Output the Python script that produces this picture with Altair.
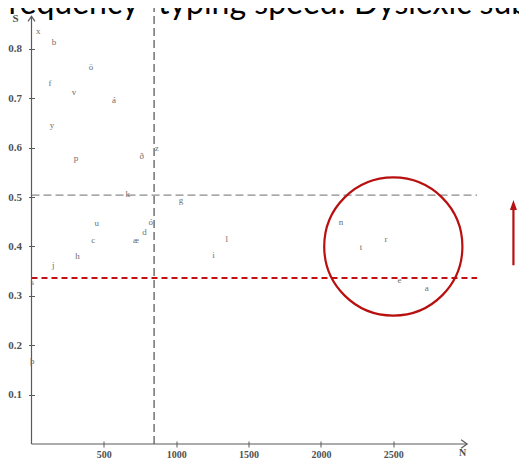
import altair as alt
import pandas as pd

# ---- data ----
letters = ["x", "b", "ö", "f", "v", "á", "y", "p", "ð", "z", "k", "g", "u", "ó",
           "d", "c", "æ", "l", "h", "i", "j", "s", "n", "t", "r", "e", "a", "þ"]
freq_n = [47, 155, 411, 128, 294, 570, 142, 308, 762, 865, 665, 1033, 451, 824,
          780, 427, 722, 1349, 317, 1257, 151, 5, 2139, 2277, 2450, 2542, 2731, 5]
speed_s = [0.836, 0.814, 0.763, 0.731, 0.713, 0.697, 0.646, 0.579, 0.583, 0.599,
           0.506, 0.494, 0.447, 0.449, 0.429, 0.413, 0.414, 0.416, 0.381, 0.383,
           0.363, 0.328, 0.449, 0.398, 0.416, 0.333, 0.316, 0.169]

x_ticks = [500, 1000, 1500, 2000, 2500]
y_ticks = [0.1, 0.2, 0.3, 0.4, 0.5, 0.6, 0.7, 0.8]

mean_n = [847]
mean_s = [0.504]
red_level = [0.336]
guide_end_n = [3079]
axis_end_n = [3010]
axis_end_s = [0.866]
circle_center = [2500, 0.40]
arrow_n = [3330]
arrow_s = [0.362, 0.478, 0.484]

x_domain = [0, 3365]
y_domain = [0, 0.883]

df = pd.DataFrame({"letter": letters, "N": freq_n, "S": speed_s})

xs = alt.Scale(domain=x_domain, nice=False, zero=False)
ys = alt.Scale(domain=y_domain, nice=False, zero=False)

serif = "Liberation Serif"
axis_col = "#5a5a5a"

pts = alt.Chart(df).mark_text(font=serif, fontSize=9, color="#6e6e6e").encode(
    x=alt.X("N:Q", scale=xs, axis=alt.Axis(
        values=x_ticks, format="d", title=None, grid=False, domain=False,
        labelFont=serif, labelFontWeight="bold", labelFontSize=10,
        labelColor="#505050", tickColor=axis_col, tickSize=6, tickWidth=1,
        offset=-3, labelPadding=2)),
    y=alt.Y("S:Q", scale=ys, axis=alt.Axis(
        values=y_ticks, format=".1f", title=None, grid=False, domain=False,
        labelFont=serif, labelFontWeight="bold", labelFontSize=11,
        labelColor="#505050", tickColor=axis_col, tickSize=6, tickWidth=1,
        offset=-3, labelPadding=7)),
    text="letter:N",
)

# axis lines
yaxis_line = alt.Chart(pd.DataFrame({"n": [0], "s0": [0], "s1": axis_end_s})).mark_rule(
    color=axis_col, strokeWidth=1.2).encode(
    x=alt.X("n:Q", scale=xs), y=alt.Y("s0:Q", scale=ys), y2="s1:Q")
xaxis_line = alt.Chart(pd.DataFrame({"s": [0], "n0": [0], "n1": axis_end_n})).mark_rule(
    color=axis_col, strokeWidth=1.2).encode(
    y=alt.Y("s:Q", scale=ys), x=alt.X("n0:Q", scale=xs), x2="n1:Q")

y_arrow = alt.Chart(pd.DataFrame({"n": [0], "s": axis_end_s})).mark_point(
    shape="M-0.7,1L0,0L0.7,1", filled=False, size=100, color=axis_col,
    strokeWidth=1.2, opacity=1).encode(
    x=alt.X("n:Q", scale=xs), y=alt.Y("s:Q", scale=ys))
x_arrow = alt.Chart(pd.DataFrame({"n": axis_end_n, "s": [0]})).mark_point(
    shape="M-1,-0.7L0,0L-1,0.7", filled=False, size=144, color=axis_col,
    strokeWidth=1.2, opacity=1).encode(
    x=alt.X("n:Q", scale=xs), y=alt.Y("s:Q", scale=ys))

# dashed guides
h_guide = alt.Chart(pd.DataFrame({"s": mean_s, "n0": [0], "n1": guide_end_n})).mark_rule(
    color="#8a8a8a", strokeWidth=1.2, strokeDash=[8, 4]).encode(
    y=alt.Y("s:Q", scale=ys), x=alt.X("n0:Q", scale=xs), x2="n1:Q")
v_guide = alt.Chart(pd.DataFrame({"n": mean_n, "s0": [0], "s1": [y_domain[1]]})).mark_rule(
    color="#5c5c5c", strokeWidth=1.3, strokeDash=[8, 4]).encode(
    x=alt.X("n:Q", scale=xs), y=alt.Y("s0:Q", scale=ys), y2="s1:Q")

red = "#b80f0f"
red_line = alt.Chart(pd.DataFrame({"s": red_level, "n0": [0], "n1": guide_end_n})).mark_rule(
    color="#c41010", strokeWidth=2, strokeDash=[6, 4]).encode(
    y=alt.Y("s:Q", scale=ys), x=alt.X("n0:Q", scale=xs), x2="n1:Q")

circle = alt.Chart(pd.DataFrame({"n": [circle_center[0]], "s": [circle_center[1]]})).mark_point(
    shape="circle", filled=False, size=19100, color=red, strokeWidth=2.2, opacity=1).encode(
    x=alt.X("n:Q", scale=xs), y=alt.Y("s:Q", scale=ys))

arrow_shaft = alt.Chart(pd.DataFrame({"n": arrow_n, "s0": [arrow_s[0]], "s1": [arrow_s[1]]})).mark_rule(
    color=red, strokeWidth=2.2).encode(
    x=alt.X("n:Q", scale=xs), y=alt.Y("s0:Q", scale=ys), y2="s1:Q")
arrow_head = alt.Chart(pd.DataFrame({"n": arrow_n, "s": [arrow_s[2]]})).mark_point(
    shape="M0,-1L0.7,1L-0.7,1Z", filled=True, size=100, color=red, opacity=1).encode(
    x=alt.X("n:Q", scale=xs), y=alt.Y("s:Q", scale=ys))

# axis names
s_label = alt.Chart(pd.DataFrame({"t": ["S"]})).mark_text(
    font=serif, fontSize=11, fontWeight="bold", color="#505050").encode(
    x=alt.value(-16), y=alt.value(11), text="t:N")
n_label = alt.Chart(pd.DataFrame({"t": ["N"]})).mark_text(
    font=serif, fontSize=10, fontWeight="bold", color="#505050").encode(
    x=alt.value(431), y=alt.value(445), text="t:N")

# slide title (cut off at the top in the reference)
title_a = alt.Chart(pd.DataFrame({"t": ["requency"]})).mark_text(
    font="Lato", fontSize=32, color="#000000", align="left", baseline="alphabetic").encode(
    x=alt.value(-23), y=alt.value(6), text="t:N")
title_b = alt.Chart(pd.DataFrame({"t": ["typing speed: Dyslexic subje"]})).mark_text(
    font="Lato", fontSize=32, color="#000000", align="left", baseline="alphabetic").encode(
    x=alt.value(126.5), y=alt.value(6), text="t:N")

chart = alt.layer(
    h_guide, v_guide, red_line, yaxis_line, xaxis_line, y_arrow, x_arrow,
    pts, circle, arrow_shaft, arrow_head, s_label, n_label, title_a, title_b,
).properties(
    width=487, height=436,
    padding={"left": 23.5, "top": 0, "right": 0, "bottom": 16},
    autosize=alt.AutoSizeParams(type="none"),
    background="white",
).configure_view(stroke=None)

chart.save("out.html", embed_options={"renderer": "svg", "actions": False})
